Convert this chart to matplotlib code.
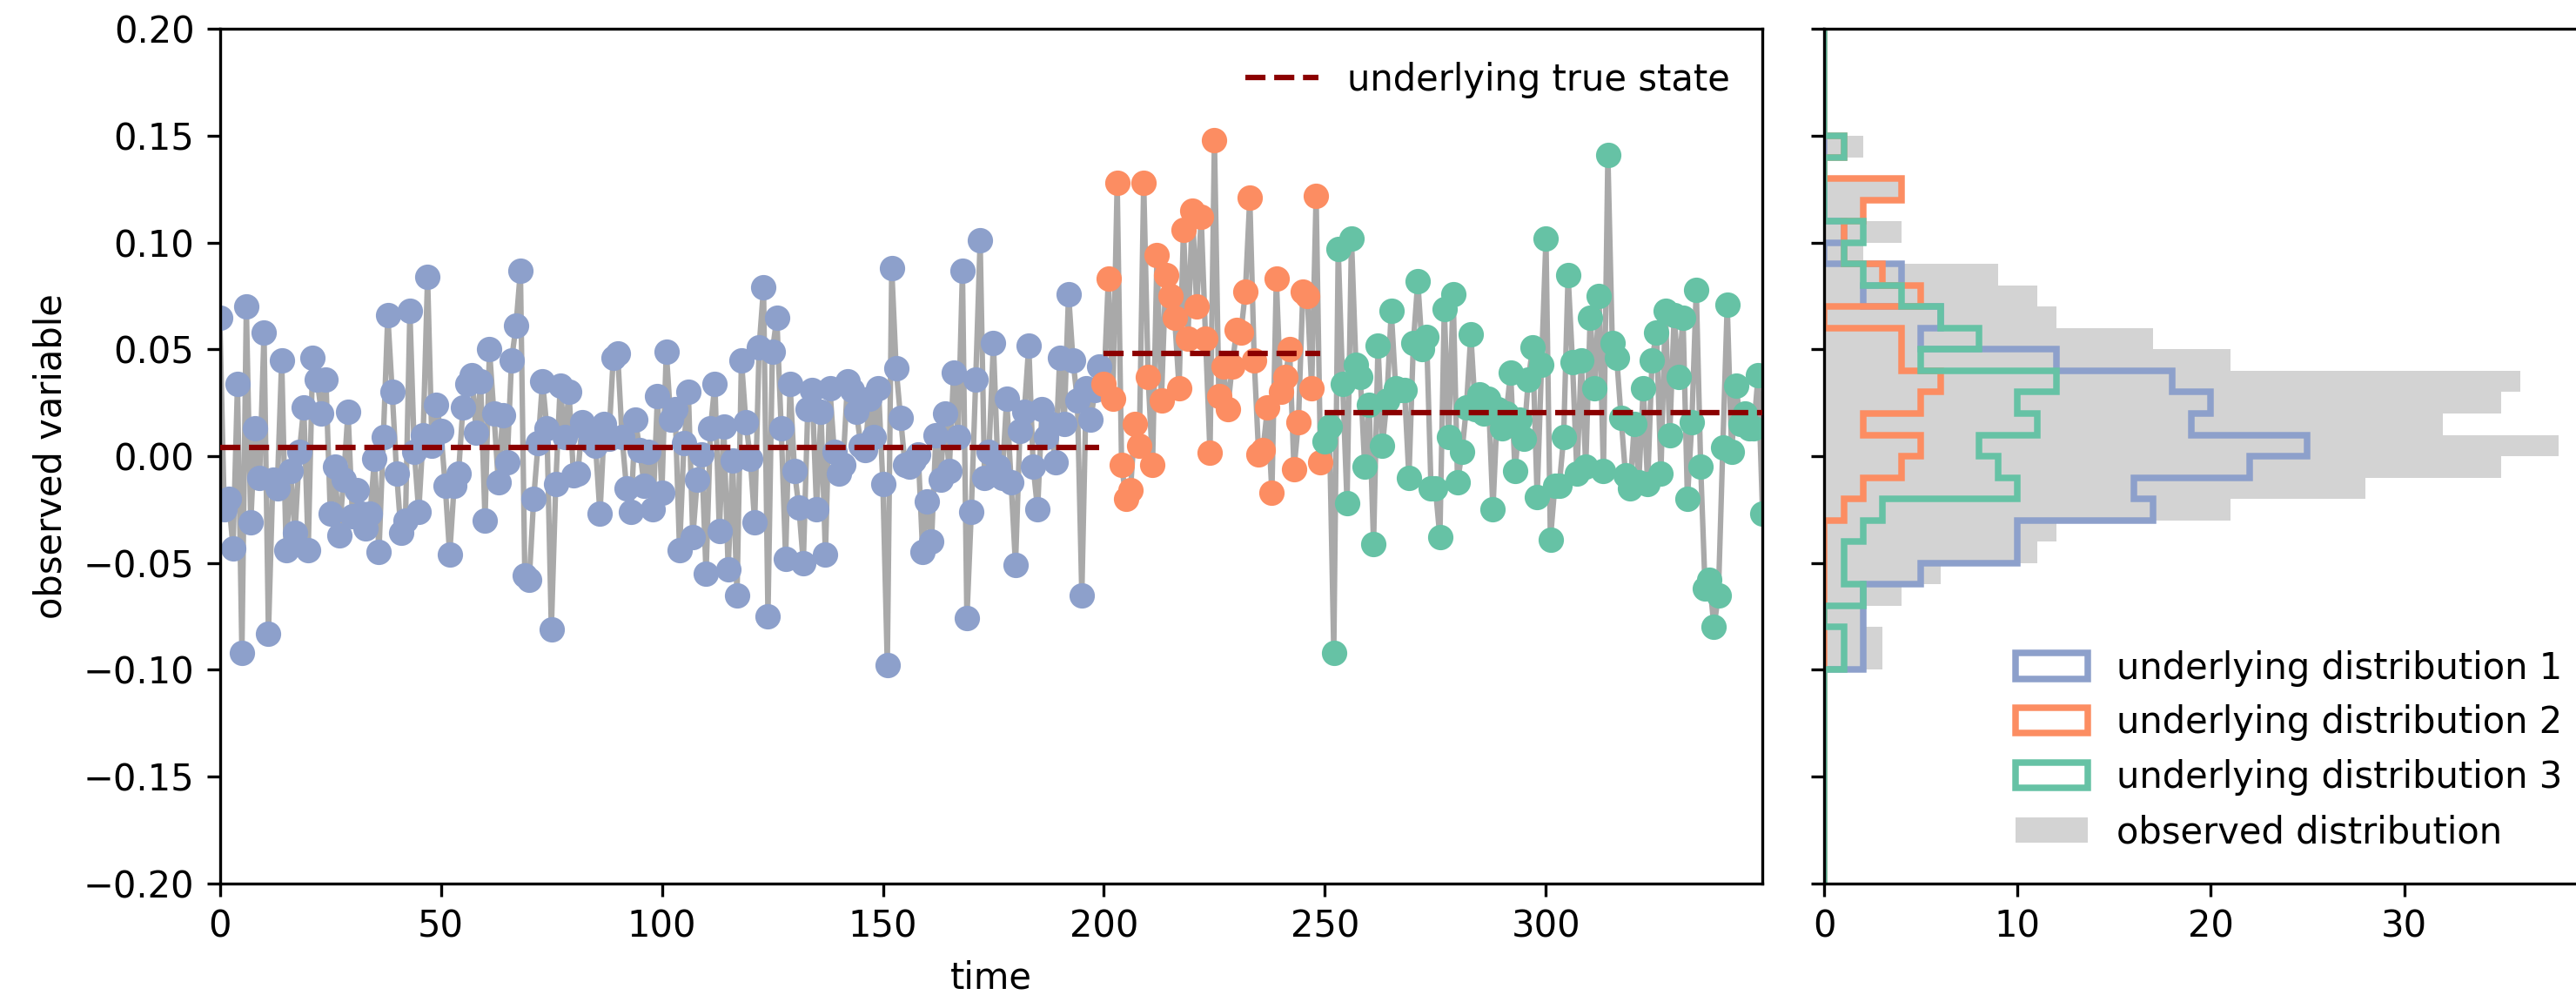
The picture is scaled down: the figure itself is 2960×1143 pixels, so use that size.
import numpy as np
import matplotlib
matplotlib.use("Agg")
import matplotlib.pyplot as plt

# observed values, one list per underlying distribution (time 0..199, 200..249, 250..349)
obs_1 = [
    0.065, -0.025, -0.020, -0.043, 0.034, -0.092, 0.070, -0.031, 0.013, -0.010,
    0.058, -0.083, -0.011, -0.015, 0.045, -0.044, -0.007, -0.036, 0.002, 0.023,
    -0.044, 0.046, 0.036, 0.020, 0.036, -0.027, -0.005, -0.037, -0.011, 0.021,
    -0.028, -0.016, -0.027, -0.034, -0.027, -0.001, -0.045, 0.009, 0.066, 0.030,
    -0.008, -0.036, -0.030, 0.068, 0.002, -0.026, 0.010, 0.084, 0.005, 0.024,
    0.012, -0.014, -0.046, -0.014, -0.008, 0.023, 0.034, 0.038, 0.011, 0.035,
    -0.030, 0.050, 0.020, -0.012, 0.019, -0.003, 0.045, 0.061, 0.087, -0.056,
    -0.058, -0.020, 0.006, 0.035, 0.013, -0.081, -0.013, 0.033, 0.009, 0.030,
    -0.009, -0.008, 0.016, 0.013, 0.007, 0.005, -0.027, 0.015, 0.008, 0.046,
    0.048, 0.009, -0.015, -0.026, 0.017, 0.003, -0.014, 0.002, -0.025, 0.028,
    -0.017, 0.049, 0.017, 0.022, -0.044, 0.006, 0.030, -0.038, -0.011, 0.001,
    -0.055, 0.013, 0.034, -0.035, 0.014, -0.053, -0.002, -0.065, 0.045, 0.016,
    -0.001, -0.031, 0.051, 0.079, -0.075, 0.049, 0.065, 0.013, -0.048, 0.034,
    -0.007, -0.024, -0.050, 0.022, 0.031, -0.025, 0.021, -0.046, 0.032, 0.002,
    -0.008, -0.004, 0.035, 0.031, 0.021, 0.005, 0.003, 0.027, 0.009, 0.032,
    -0.013, -0.098, 0.088, 0.041, 0.018, -0.004, -0.005, -0.002, 0.001, -0.045,
    -0.021, -0.040, 0.010, -0.011, 0.020, -0.007, 0.039, 0.009, 0.087, -0.076,
    -0.026, 0.036, 0.101, -0.010, 0.002, 0.053, -0.005, -0.010, 0.027, -0.012,
    -0.051, 0.012, 0.021, 0.052, -0.005, -0.025, 0.022, 0.009, 0.015, -0.003,
    0.046, 0.015, 0.076, 0.045, 0.026, -0.065, 0.032, 0.017, 0.031, 0.042,
]
obs_2 = [
    0.034, 0.083, 0.027, 0.128, -0.004, -0.020, -0.016, 0.015, 0.005, 0.128,
    0.037, -0.004, 0.094, 0.026, 0.085, 0.075, 0.065, 0.032, 0.106, 0.055,
    0.115, 0.070, 0.112, 0.055, 0.0015, 0.148, 0.028, 0.042, 0.022, 0.042,
    0.059, 0.058, 0.077, 0.121, 0.045, 0.001, 0.003, 0.023, -0.017, 0.083,
    0.030, 0.037, 0.050, -0.006, 0.016, 0.077, 0.075, 0.032, 0.122, -0.003,
]
obs_3 = [
    0.007, 0.014, -0.092, 0.097, 0.034, -0.022, 0.102, 0.043, 0.037, -0.005,
    0.024, -0.041, 0.052, 0.005, 0.026, 0.068, 0.032, 0.031, 0.031, -0.010,
    0.053, 0.082, 0.050, 0.056, -0.015, -0.015, -0.038, 0.069, 0.009, 0.076,
    -0.012, 0.002, 0.023, 0.057, 0.022, 0.029, 0.020, 0.027, -0.025, 0.022,
    0.013, 0.020, 0.039, -0.007, 0.017, 0.008, 0.036, 0.051, -0.019, 0.043,
    0.102, -0.039, -0.014, -0.014, 0.009, 0.085, 0.044, -0.008, 0.045, -0.005,
    0.065, 0.032, 0.075, -0.007, 0.141, 0.053, 0.046, 0.018, -0.009, -0.015,
    0.015, -0.012, 0.032, -0.013, 0.045, 0.058, -0.008, 0.068, 0.010, 0.066,
    0.037, 0.065, -0.020, 0.016, 0.078, -0.005, -0.062, -0.058, -0.080, -0.065,
    0.004, 0.071, 0.002, 0.033, 0.015, 0.020, 0.013, 0.013, 0.038, -0.027,
]
true_states = [0.004, 0.048, 0.0205]
seg_colors = ["#8da0cb", "#fc8d62", "#66c2a5"]

# histogram counts in 0.01 bins, lowest bin starts at -0.10, last one at 0.14
hist_start = -0.10
counts_1 = [2, 2, 2, 2, 5, 10, 10, 17, 16, 22, 25, 19, 20, 18, 12, 5, 6, 2, 4, 0, 1, 0, 0, 0, 0]
counts_2 = [0, 0, 0, 0, 0, 0, 0, 1, 2, 4, 5, 2, 5, 6, 4, 4, 0, 5, 3, 1, 1, 2, 4, 0, 1]
counts_3 = [1, 1, 0, 2, 1, 1, 2, 3, 10, 9, 8, 11, 10, 12, 5, 8, 6, 4, 2, 1, 2, 0, 0, 0, 1]


def full_counts(counts, edges):
    """Place the read counts into the full -0.2..0.2 bin range."""
    out = np.zeros(len(edges) - 1)
    i0 = int(round((hist_start - edges[0]) / 0.01))
    out[i0:i0 + len(counts)] = counts
    return out


W, H, dpi = 2961, 1143, 300
fig = plt.figure(figsize=(W / dpi, H / dpi), dpi=dpi)
ax = fig.add_axes([0.0853, 0.1123, 0.5987, 0.8584])
ax2 = fig.add_axes([0.708, 0.1123, 0.2992, 0.8584], sharey=ax)

segments = [obs_1, obs_2, obs_3]
y_all = np.concatenate(segments)
t_all = np.arange(len(y_all))

ax.plot(t_all, y_all, color="darkgray", lw=1.5, zorder=1)
start = 0
for seg, col, state in zip(segments, seg_colors, true_states):
    t = np.arange(start, start + len(seg))
    ax.plot(t, seg, "o", color=col, zorder=2)
    start += len(seg)

start = 0
for i, (seg, state) in enumerate(zip(segments, true_states)):
    t0, t1 = start, start + len(seg) - 1
    ax.plot([t0, t1], [state, state], "--", color="darkred", lw=1.5, zorder=3,
            label="underlying true state" if i == 0 else None)
    start += len(seg)

ax.set_xlim(0, len(y_all) - 1)
ax.set_ylim(-0.2, 0.2)
ax.set_xlabel("time")
ax.set_ylabel("observed variable")
ax.legend(loc="upper right", frameon=False)

# histograms on the right
edges = np.round(np.arange(-0.2, 0.2001, 0.01), 2)
mids = edges[:-1] + 0.005
c1 = full_counts(counts_1, edges)
c2 = full_counts(counts_2, edges)
c3 = full_counts(counts_3, edges)

_, _, p_obs = ax2.hist(mids, bins=edges, weights=c1 + c2 + c3, histtype="stepfilled",
                       orientation="horizontal", color="lightgrey", lw=0,
                       label="observed distribution")
handles = []
for k, (c, col) in enumerate(zip([c1, c2, c3], seg_colors)):
    _, _, p = ax2.hist(mids, bins=edges, weights=c, histtype="step",
                       orientation="horizontal", color=col, lw=1.8,
                       label=f"underlying distribution {k + 1}")
    handles.append(p[0])
handles.append(p_obs[0])
ax2.legend(handles=handles, loc="lower right", frameon=False)
ax2.set_xticks([0, 10, 20, 30])
plt.setp(ax2.get_yticklabels(), visible=False)

fig.savefig("out.png", dpi=dpi)
